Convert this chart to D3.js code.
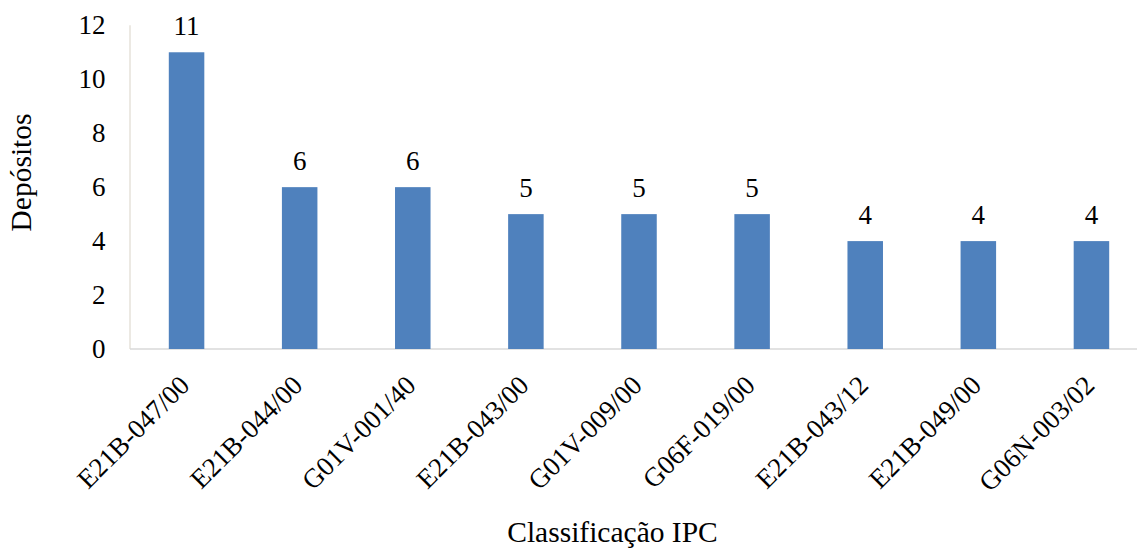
<!DOCTYPE html>
<html>
<head>
<meta charset="utf-8">
<script src="https://cdn.jsdelivr.net/npm/d3@7"></script>
<style>
  html, body { margin: 0; padding: 0; background: #ffffff; }
  svg { display: block; }
</style>
</head>
<body>
<svg id="chart" width="1137" height="548"></svg>
<script>
// IPC classification codes and number of filings per code
const categories = ["E21B-047/00", "E21B-044/00", "G01V-001/40", "E21B-043/00", "G01V-009/00",
                    "G06F-019/00", "E21B-043/12", "E21B-049/00", "G06N-003/02"];
const depositos = [11, 6, 6, 5, 5, 5, 4, 4, 4];
const yTicks = [0, 2, 4, 6, 8, 10, 12];

const FONT = "'Liberation Serif'";
const FS = "27px";       // tick, value and category labels
const FS_TITLE = "29.5px"; // axis titles

const svg = d3.select("#chart");
const plotLeft = 130, plotRight = 1148, plotTop = 25.3, plotBottom = 349;

const x = d3.scaleBand()
  .domain(categories)
  .range([plotLeft, plotRight])
  .paddingInner(0.686)
  .paddingOuter(0.343);

const y = d3.scaleLinear().domain([0, 12]).range([plotBottom, plotTop]);

// axis lines
svg.append("line")
  .attr("x1", plotLeft).attr("x2", plotLeft)
  .attr("y1", y(12)).attr("y2", plotBottom)
  .attr("stroke", "#e6e2da").attr("stroke-width", 1.5);
svg.append("line")
  .attr("x1", plotLeft).attr("x2", 1137)
  .attr("y1", plotBottom).attr("y2", plotBottom)
  .attr("stroke", "#d9d9d9").attr("stroke-width", 1.5);

// y tick labels
const yAxis = d3.axisLeft(y).tickValues(yTicks).tickSize(0).tickPadding(24.5);
const yg = svg.append("g").attr("transform", `translate(${plotLeft},0)`).call(yAxis);
yg.select(".domain").remove();
yg.attr("font-family", null).attr("font-size", null);
yg.selectAll("text")
  .style("font-family", FONT)
  .style("font-size", FS)
  .attr("fill", "#000");

// bars
svg.append("g").selectAll("rect")
  .data(categories)
  .join("rect")
  .attr("x", d => x(d))
  .attr("width", x.bandwidth())
  .attr("y", (d, i) => y(depositos[i]))
  .attr("height", (d, i) => y(0) - y(depositos[i]))
  .attr("fill", "#4f81bd");

// value labels
svg.append("g").selectAll("text")
  .data(categories)
  .join("text")
  .attr("x", d => x(d) + x.bandwidth() / 2)
  .attr("y", (d, i) => y(depositos[i]) - 17.3)
  .attr("text-anchor", "middle")
  .style("font-family", FONT)
  .style("font-size", FS)
  .text((d, i) => depositos[i]);

// category labels, rotated
svg.append("g").selectAll("text")
  .data(categories)
  .join("text")
  .attr("transform", d => `translate(${x(d) + x.bandwidth() / 2 + 4.5},${plotBottom + 38}) rotate(-45)`)
  .attr("text-anchor", "end")
  .style("font-family", FONT)
  .style("font-size", FS)
  .text(d => d);

// axis titles
svg.append("text")
  .attr("x", 612.5).attr("y", 542)
  .attr("text-anchor", "middle")
  .style("font-family", FONT)
  .style("font-size", FS_TITLE)
  .text("Classificação IPC");

svg.append("text")
  .attr("transform", `translate(31,172.5) rotate(-90)`)
  .attr("text-anchor", "middle")
  .style("font-family", FONT)
  .style("font-size", FS_TITLE)
  .text("Depósitos");
</script>
</body>
</html>
